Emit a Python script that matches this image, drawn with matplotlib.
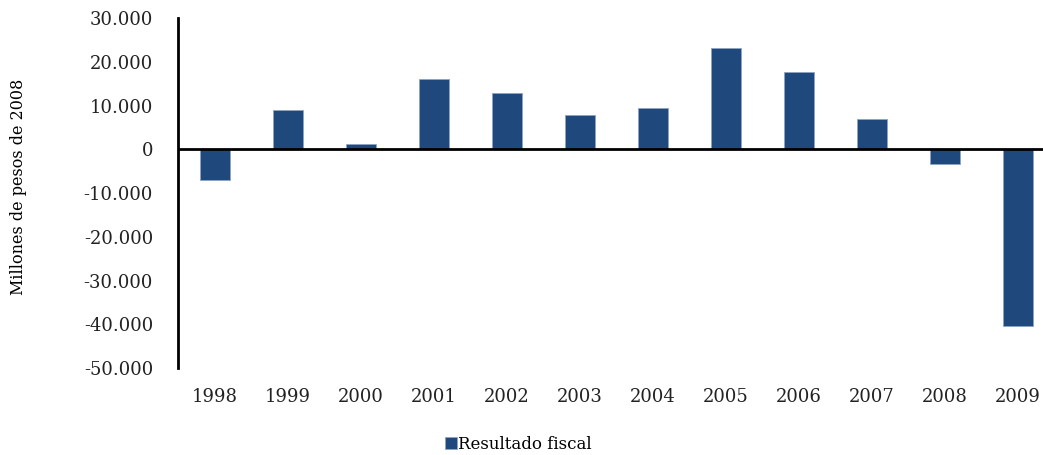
import matplotlib
matplotlib.use("Agg")
import matplotlib.pyplot as plt
from matplotlib.ticker import FuncFormatter

anios = ["1998", "1999", "2000", "2001", "2002", "2003", "2004", "2005", "2006", "2007", "2008", "2009"]
resultado = [-7100, 8900, 1200, 16200, 13000, 7800, 9400, 23300, 17600, 6900, -3400, -40300]

plt.rcParams['font.family'] = ['DejaVu Serif']

fig = plt.figure(figsize=(10.43, 4.55), dpi=100)
ax = fig.add_axes([0.1707, 0.191, 0.84, 0.769])

x = range(len(anios))
ax.bar(x, resultado, width=0.41, color='#1F497D', edgecolor='#8EA4C2', linewidth=0.6,
       label='Resultado fiscal', zorder=2)
ax.axhline(0, color='black', linewidth=2, zorder=3)

ax.set_ylim(-50000, 30000)
ax.set_yticks(range(-50000, 30001, 10000))
ax.yaxis.set_major_formatter(FuncFormatter(lambda v, p: f"{int(v):,}".replace(",", ".")))
ax.set_xlim(-0.5, len(anios) - 0.5)
ax.set_xticks(list(x))
ax.set_xticklabels(anios)

for s in ['top', 'right', 'bottom']:
    ax.spines[s].set_visible(False)
ax.spines['left'].set_linewidth(2)
ax.tick_params(axis='both', length=0, labelsize=13, colors='#222222')
ax.tick_params(axis='y', pad=18)
ax.tick_params(axis='x', pad=14)

fig.text(0.018, 0.59, 'Millones de pesos de 2008', rotation=90, va='center', ha='center', fontsize=11.5)

fig.legend(loc='center', bbox_to_anchor=(0.497, 0.024), frameon=False, fontsize=12,
           handlelength=0.7, handleheight=0.7, handletextpad=0.1)

fig.savefig('out.png', dpi=100)
